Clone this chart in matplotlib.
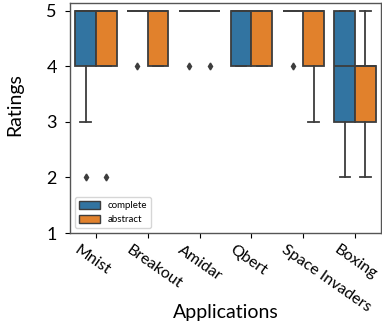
import matplotlib
matplotlib.use("Agg")
import matplotlib.pyplot as plt
from matplotlib.patches import Patch
import matplotlib.transforms as mtransforms

plt.rcParams['font.family'] = ['Lato', 'DejaVu Sans']

apps = ["Mnist", "Breakout", "Amidar", "Qbert", "Space Invaders", "Boxing"]
hues = ["complete", "abstract"]

# box statistics per application: (q1, median, q3, whisker_low, whisker_high, fliers)
complete_q1 = [4, 5, 5, 4, 5, 3]
complete_med = [5, 5, 5, 5, 5, 4]
complete_q3 = [5, 5, 5, 5, 5, 5]
complete_wlo = [3, 5, 5, 4, 5, 2]
complete_whi = [5, 5, 5, 5, 5, 5]
complete_fliers = [[2], [4], [4], [], [4], []]

abstract_q1 = [4, 4, 5, 4, 4, 3]
abstract_med = [5, 5, 5, 5, 5, 4]
abstract_q3 = [5, 5, 5, 5, 5, 4]
abstract_wlo = [4, 4, 5, 4, 3, 2]
abstract_whi = [5, 5, 5, 5, 5, 5]
abstract_fliers = [[2], [], [4], [], [], []]

colors = ["#3274a1", "#e1812c"]
gray = "#3d3d3d"

fig = plt.figure(figsize=(3.82, 3.26), dpi=100)
ax = fig.add_axes([70/382, 1-233/326, 311/382, 230/326])

def make_stats(q1, med, q3, wlo, whi, fl):
    return [dict(q1=a, med=b, q3=c, whislo=d, whishi=e, fliers=f)
            for a, b, c, d, e, f in zip(q1, med, q3, wlo, whi, fl)]

series = [
    make_stats(complete_q1, complete_med, complete_q3, complete_wlo, complete_whi, complete_fliers),
    make_stats(abstract_q1, abstract_med, abstract_q3, abstract_wlo, abstract_whi, abstract_fliers),
]
offsets = [-0.2, 0.2]
for k, st in enumerate(series):
    pos = [i + offsets[k] for i in range(len(apps))]
    ax.bxp(st, positions=pos, widths=0.4, patch_artist=True, manage_ticks=False,
           boxprops=dict(facecolor=colors[k], edgecolor=gray, linewidth=1.3),
           medianprops=dict(color=gray, linewidth=1.3),
           whiskerprops=dict(color=gray, linewidth=1.3),
           capprops=dict(color=gray, linewidth=1.3),
           capwidths=0.2,
           flierprops=dict(marker='d', markerfacecolor=gray, markeredgecolor=gray,
                           markersize=3.5, linestyle='none'))

ax.set_xlim(-0.5, 5.5)
ax.set_ylim(1, 5.14)
ax.set_yticks([1, 2, 3, 4, 5])
ax.set_xticks(range(len(apps)))
ax.set_xticklabels(apps, rotation=-35, ha='left', va='top', fontsize=11.5)
off = mtransforms.ScaledTranslation(-24/100, 0, fig.dpi_scale_trans)
for lab in ax.get_xticklabels():
    lab.set_transform(lab.get_transform() + off)
ax.tick_params(axis='y', labelsize=13, pad=6)
ax.set_ylabel("Ratings", fontsize=14)
ax.yaxis.set_label_coords(-0.15, 0.557)
ax.set_xlabel("Applications", fontsize=14)
ax.xaxis.set_label_coords(0.5, -0.31)
for s in ax.spines.values():
    s.set_color("#555555")
    s.set_linewidth(1.0)

handles = [Patch(facecolor=colors[i], edgecolor=gray, label=hues[i]) for i in range(2)]
ax.legend(handles=handles, loc='lower left', fontsize=7, handlelength=2.2,
          handleheight=0.9, borderaxespad=0.5)

fig.savefig("out.png", dpi=100)
